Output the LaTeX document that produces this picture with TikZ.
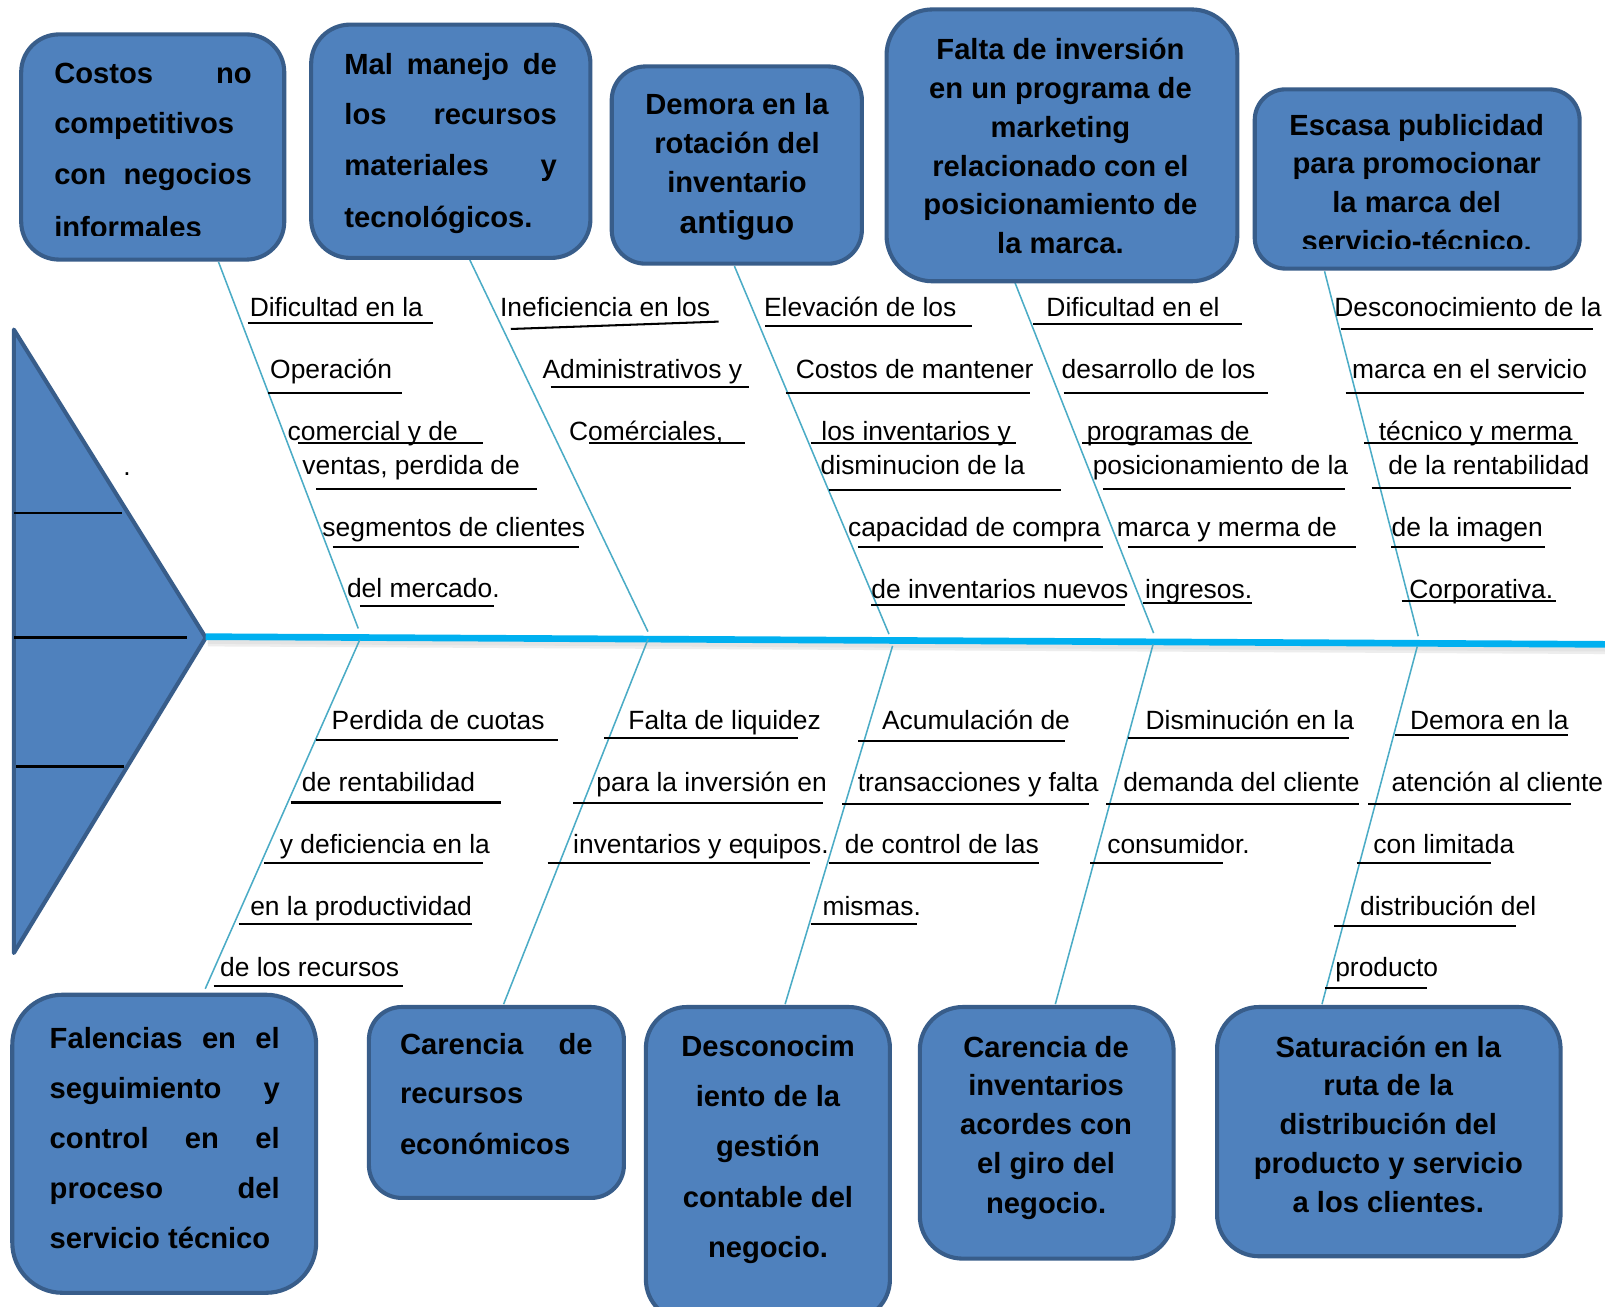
\documentclass[tikz,border=0pt]{standalone}
\usepackage{fontspec}
\setmainfont{Liberation Sans}
\definecolor{boxfill}{HTML}{4F81BD}
\definecolor{boxline}{HTML}{385D8A}
\definecolor{spinec}{HTML}{00B0F0}
\definecolor{bonec}{HTML}{4BACC6}
\newcommand{\lab}[7]{\node[lbl] (#1) at (#2,#3) {#4};\draw[uline] (#5,#7) -- (#6,#7);}
\begin{document}
\begin{tikzpicture}[x=1pt,y=-1pt,
 box/.style={draw=boxline, fill=boxfill, line width=4pt, inner sep=0pt, outer sep=0pt},
 btxt/.style={inner sep=0pt, outer sep=0pt, font=\bfseries\fontsize{28.5}{34}\selectfont, anchor=base},
 bjtxt/.style={btxt, anchor=base west},
 lbl/.style={inner sep=0pt, outer sep=0pt, font=\fontsize{25.8}{30}\selectfont, anchor=base west},
 uline/.style={line width=2pt, black},
 bone/.style={line width=1.5pt, bonec},
 spine/.style={line width=6.5pt, spinec}]
\clip (0,0) rectangle (1568,1276);
\fill[white] (0,0) rectangle (1568,1276);

% head
\draw[line width=4pt, draw=boxline, fill=boxfill, line join=round] (13.5,322) -- (201,623) -- (13.5,931) -- cycle;
\draw[uline, line width=2.5pt] (14,501) -- (119,501);
\draw[uline, line width=2.5pt] (14,623) -- (183,623);
\draw[uline, line width=2.5pt] (16,749) -- (121,749);
\node[lbl, anchor=base] (dot) at (124,465) {.};

% spine
\coordinate (apex) at (201,622);
\coordinate (spineEnd) at (1572,629.5);
\draw[line width=7pt, black!7] (203,628) -- (1572,635.5);
\draw[line width=4pt, black!11] (203,627) -- (1572,634.5);
\draw[spine] (apex) -- (spineEnd);

% bone coordinates
\coordinate (tf1) at (213.5,256);   \coordinate (ts1) at (350,614);
\coordinate (tf2) at (459,254);     \coordinate (ts2) at (633,617);
\coordinate (tf3) at (717.5,260);   \coordinate (ts3) at (868.5,619.5);
\coordinate (tf4) at (991.5,276);   \coordinate (ts4) at (1127,618.5);
\coordinate (tf5) at (1294,265);    \coordinate (ts5) at (1385.5,621.5);
\coordinate (bs1) at (351.5,625);   \coordinate (bf1) at (200.5,966);
\coordinate (bs2) at (633.3,624);   \coordinate (bf2) at (492,981);
\coordinate (bs3) at (872,631);     \coordinate (bf3) at (767,981);
\coordinate (bs4) at (1126.5,629.5);\coordinate (bf4) at (1031,981);
\coordinate (bs5) at (1384.6,631.5);\coordinate (bf5) at (1291.5,981);
\foreach \i in {1,...,5}{
  \draw[bone] (tf\i) -- (ts\i);
  \draw[bone] (bs\i) -- (bf\i);
}

% top boxes
\node[box, minimum width=257pt, minimum height=220pt, rounded corners=37pt] (tb1) at (149.2,143.6) {};
\node[box, minimum width=272.8pt, minimum height=227.9pt, rounded corners=38pt] (tb2) at (440.4,138) {};
\node[box, minimum width=244.4pt, minimum height=192.7pt, rounded corners=33pt] (tb3) at (719.8,161.25) {};
\node[box, minimum width=342.7pt, minimum height=265.6pt, rounded corners=45pt] (tb4) at (1037.45,142) {};
\node[box, minimum width=317.4pt, minimum height=175.1pt, rounded corners=30pt] (tb5) at (1384.5,174.85) {};

% bottom boxes
\node[box, minimum width=296.9pt, minimum height=291.2pt, rounded corners=49pt] (bb1) at (160.45,1117.4) {};
\node[box, minimum width=249.1pt, minimum height=186.5pt, rounded corners=32pt] (bb2) at (484.95,1077.05) {};
\node[box, minimum width=238.4pt, minimum height=306.2pt, rounded corners=40pt] (bb3) at (750.2,1136.9) {};
\node[box, minimum width=247.9pt, minimum height=245.8pt, rounded corners=42pt] (bb4) at (1022.55,1106.7) {};
\node[box, minimum width=335.6pt, minimum height=243.5pt, rounded corners=41pt] (bb5) at (1356.8,1105.55) {};

% box texts
\begin{scope}
\clip (0,0) rectangle (1568,230);
\node[bjtxt] (tb1a) at (53,81.4) {\hbox to 193pt{Costos\hfill no}};
\node[bjtxt] (tb1b) at (53,130.9) {competitivos};
\node[bjtxt] (tb1c) at (53,180.7) {\hbox to 193pt{con\hfill negocios}};
\node[bjtxt] (tb1d) at (53,232) {informales};
\end{scope}
\node[bjtxt] (tb2a) at (336.5,72.3) {\hbox to 207.5pt{Mal\hfill manejo\hfill de}};
\node[bjtxt] (tb2b) at (336.5,122.1) {\hbox to 207.5pt{los\hfill recursos}};
\node[bjtxt] (tb2c) at (336.5,171) {\hbox to 207.5pt{materiales\hfill y}};
\node[bjtxt] (tb2d) at (336.5,222.5) {tecnológicos.};

\node[btxt] (tb3a) at (720,112.3) {Demora en la};
\node[btxt] (tb3b) at (720,149.8) {rotación del};
\node[btxt] (tb3c) at (720,188.2) {inventario};
\node[btxt, font=\bfseries\fontsize{31}{36}\selectfont] (tb3d) at (720,228) {antiguo};

\node[btxt] (tb4a) at (1036,58.6) {Falta de inversión};
\node[btxt] (tb4b) at (1036,96) {en un programa de};
\node[btxt] (tb4c) at (1036,134) {marketing};
\node[btxt] (tb4d) at (1036,172) {relacionado con el};
\node[btxt] (tb4e) at (1036,210) {posicionamiento de};
\node[btxt] (tb4f) at (1036,248) {la marca.};

\begin{scope}
\clip (0,0) rectangle (1568,242.5);
\node[btxt] (tb5a) at (1384,131.9) {Escasa publicidad};
\node[btxt] (tb5b) at (1384,169.3) {para promocionar};
\node[btxt] (tb5c) at (1384,207.8) {la marca del};
\node[btxt] (tb5d) at (1384,246) {servicio-técnico.};
\end{scope}

\node[bjtxt] (bb1a) at (48.6,1024) {\hbox to 224.7pt{Falencias\hfill en\hfill el}};
\node[bjtxt] (bb1b) at (48.6,1073) {\hbox to 224.7pt{seguimiento\hfill y}};
\node[bjtxt] (bb1c) at (48.6,1121.8) {\hbox to 224.7pt{control\hfill en\hfill el}};
\node[bjtxt] (bb1d) at (48.6,1170.7) {\hbox to 224.7pt{proceso\hfill del}};
\node[bjtxt] (bb1e) at (48.6,1219.5) {servicio técnico};

\node[bjtxt] (bb2a) at (390.8,1029.7) {\hbox to 188.2pt{Carencia\hfill de}};
\node[bjtxt] (bb2b) at (390.8,1078.5) {recursos};
\node[bjtxt] (bb2c) at (390.8,1127.4) {económicos};

\node[btxt] (bb3a) at (750.3,1031.7) {Desconocim};
\node[btxt] (bb3b) at (750.3,1081) {iento de la};
\node[btxt] (bb3c) at (750.3,1130) {gestión};
\node[btxt] (bb3d) at (750.3,1179.5) {contable del};
\node[btxt] (bb3e) at (750.3,1228.7) {negocio.};

\node[btxt] (bb4a) at (1022,1033) {Carencia de};
\node[btxt] (bb4b) at (1022,1069.8) {inventarios};
\node[btxt] (bb4c) at (1022,1108) {acordes con};
\node[btxt] (bb4d) at (1022,1146.3) {el giro del};
\node[btxt] (bb4e) at (1022,1185.4) {negocio.};

\node[btxt] (bb5a) at (1356.3,1033) {Saturación en la};
\node[btxt] (bb5b) at (1356.3,1070.7) {ruta de la};
\node[btxt] (bb5c) at (1356.3,1108.8) {distribución del};
\node[btxt] (bb5d) at (1356.3,1146.3) {producto y servicio};
\node[btxt] (bb5e) at (1356.3,1184.4) {a los clientes.};

% top labels
\lab{a1}{244}{309.4}{Dificultad en la}{242}{423}{316}
\lab{a2}{264}{369.5}{Operación}{261.5}{393}{383.6}
\lab{a3}{281}{430}{comercial y de}{291.6}{472}{433}
\lab{a4}{295.5}{464}{ventas, perdida de}{309}{525}{478}
\lab{a5}{315}{524}{segmentos de clientes}{325}{566}{534.7}
\lab{a6}{339}{584}{del mercado.}{351.5}{483}{592}

\node[lbl] (b1) at (488.6,309.4) {Ineficiencia en los};
\draw[uline] (499,321.4) -- (702,314.2);
\lab{b2}{530}{370}{Administrativos y}{538}{732}{378.4}
\lab{b3}{556}{430}{Comérciales,}{575.6}{727.5}{433}

\lab{c1}{746.5}{309.4}{Elevación de los}{747.5}{950}{318.5}
\lab{c2}{777.4}{370}{Costos de mantener}{767.6}{1005.9}{383.6}
\lab{c3}{802.5}{430}{los inventarios y}{792}{992.6}{432.5}
\lab{c4}{801.8}{464}{disminucion de la}{809.5}{1037}{478.7}
\lab{c5}{828.5}{524}{capacidad de compra}{838}{1077.4}{534}
\lab{c6}{851.3}{584.5}{de inventarios nuevos}{851}{1099}{591}

\lab{d1}{1022.3}{309.4}{Dificultad en el}{1009}{1213}{316.5}
\lab{d2}{1037.2}{370}{desarrollo de los}{1039}{1238.4}{383.6}
\lab{d3}{1061.7}{430}{programas de}{1057}{1222.8}{433}
\lab{d4}{1067.6}{464}{posicionamiento de la}{1077.4}{1314}{478}
\lab{d5}{1091}{524}{marca y merma de}{1101.8}{1324.7}{534.5}
\lab{d6}{1118.6}{584.5}{ingresos.}{1116.8}{1222.8}{589}

\lab{e1}{1303.6}{309.4}{Desconocimiento de la}{1309.8}{1556.6}{321.7}
\lab{e2}{1321}{370}{marca en el servicio}{1314.7}{1547.8}{383.6}
\lab{e3}{1347}{430}{técnico y merma}{1332.6}{1541.3}{432.5}
\lab{e4}{1356.3}{464}{de la rentabilidad}{1340}{1534.8}{477}
\lab{e5}{1359.6}{524}{de la imagen}{1359}{1509}{534.7}
\lab{e6}{1376.8}{584.5}{Corporativa.}{1369.4}{1520}{587}

% bottom labels
\lab{f1}{324}{712.5}{Perdida de cuotas}{309}{545}{723}
\lab{f2}{295}{773}{de rentabilidad}{284}{489}{784}
\lab{f3}{273.5}{833.5}{y deficiencia en la}{258}{472}{843}
\lab{f4}{244.5}{894}{en la productividad}{233}{461}{903}
\lab{f5}{215}{954}{de los recursos}{208.6}{393.6}{963}

\lab{g1}{614}{712.5}{Falta de liquidez}{590.4}{780}{721.3}
\lab{g2}{582.6}{773}{para la inversión en}{560}{804.5}{784.8}
\lab{g3}{560}{833.5}{inventarios y equipos.}{535}{791.3}{842.8}

\lab{h1}{861.7}{712.5}{Acumulación de}{838.4}{1040}{723.6}
\lab{h2}{838}{773}{transacciones y falta}{822.6}{1063.4}{785.5}
\lab{h3}{825.5}{833.5}{de control de las}{809.4}{1014.6}{842.8}
\lab{h4}{803.6}{894}{mismas.}{792}{895.8}{903}

\lab{i1}{1119.2}{712.5}{Disminución en la}{1102.3}{1318.2}{721.3}
\lab{i2}{1097.4}{773}{demanda del cliente}{1080.5}{1327.4}{785.8}
\lab{i3}{1081.8}{833.5}{consumidor.}{1065}{1195}{842.8}

\lab{j1}{1377.5}{712.5}{Demora en la}{1362.8}{1531.6}{718}
\lab{j2}{1359.6}{773}{atención al cliente}{1336.8}{1534.8}{785.5}
\lab{j3}{1341.7}{833.5}{con limitada}{1325.4}{1456.6}{843.4}
\lab{j4}{1328.7}{894}{distribución del}{1303.3}{1481}{904.6}
\lab{j5}{1304.5}{954}{producto}{1294.5}{1394.4}{965.5}
\end{tikzpicture}
\end{document}
